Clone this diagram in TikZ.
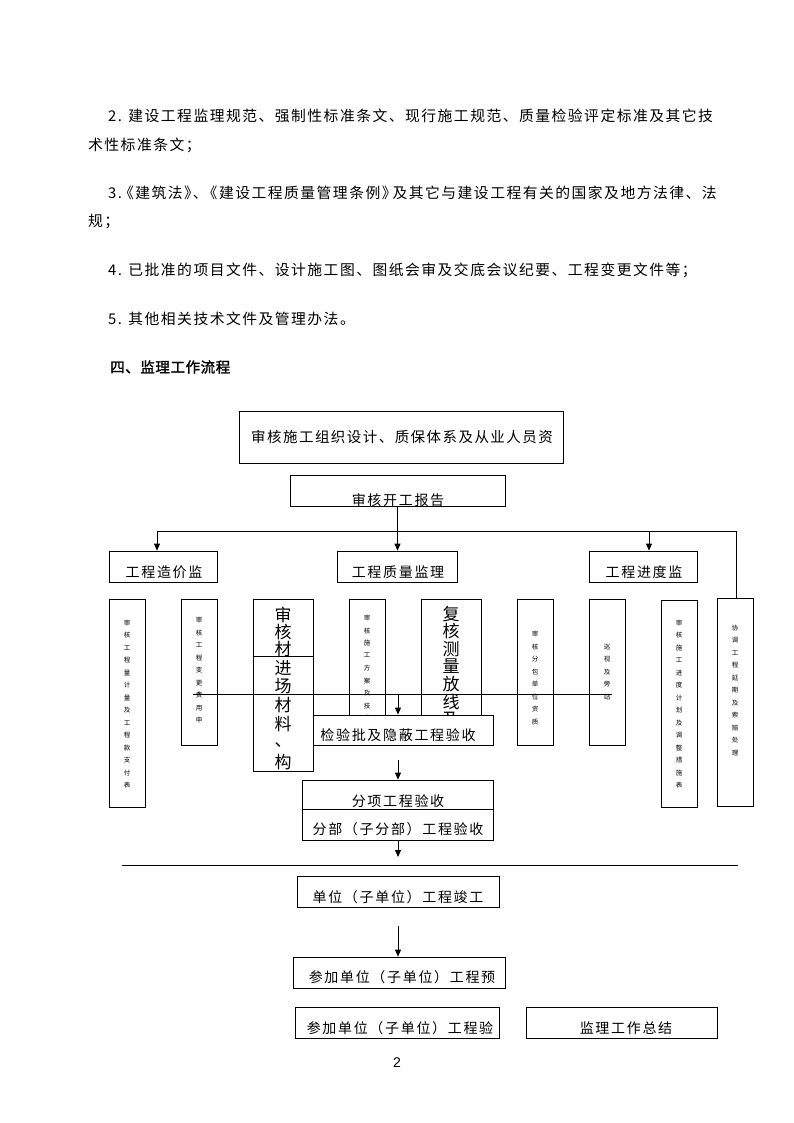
\documentclass[tikz,border=0pt]{standalone}
\usepackage{fontspec}
\usetikzlibrary{arrows.meta}
\newfontfamily\cjkt[LetterSpace=10]{Noto Sans CJK SC}
\newfontfamily\cjkb[LetterSpace=12]{Noto Sans CJK SC}
\newfontfamily\cjkv{Noto Sans CJK SC}
\newfontfamily\cjkh[FakeBold=1.6,LetterSpace=4]{Noto Sans CJK SC}
\setmainfont{Liberation Sans}
\tikzset{
  box/.style={draw, line width=0.8pt, fill=white, inner sep=0pt},
  bodytxt/.style={anchor=west, inner sep=0pt, font=\cjkt\fontsize{14.8}{17}\selectfont},
  btxt/.style={inner sep=0pt, font=\cjkb\fontsize{14}{16}\selectfont},
  bigv/.style={inner sep=0pt, font=\cjkv\fontsize{17}{18}\selectfont},
  tinyv/.style={inner sep=0pt, align=center, font=\cjkv\fontsize{6.5}{12.5}\selectfont},
  conn/.style={line width=0.8pt},
  arr/.style={line width=0.8pt, -{Triangle[length=7pt,width=6pt]}}
}
\begin{document}
\begin{tikzpicture}[x=1pt,y=-1pt]
\useasboundingbox[fill=white] (0,0) rectangle (794,1123);

% ---- body text ----
\node[bodytxt] (l1) at (108,116) {2. 建设工程监理规范、强制性标准条文、现行施工规范、质量检验评定标准及其它技};
\node[bodytxt] (l2) at (88,145) {术性标准条文；};
\node[bodytxt] (l3) at (108,193) {3.\kern-3pt《建筑法》\kern-6pt、\kern-5pt《建设工程质量管理条例》\kern-4pt及其它与建设工程有关的国家及地方法律、法};
\node[bodytxt] (l4) at (88,222) {规；};
\node[bodytxt] (l5) at (108,270) {4. 已批准的项目文件、设计施工图、图纸会审及交底会议纪要、工程变更文件等；};
\node[bodytxt] (l6) at (108,319) {5. 其他相关技术文件及管理办法。};
\node[bodytxt, font=\cjkh\fontsize{14.5}{17}\selectfont] (h4) at (110,367) {四、监理工作流程};

% ---- top boxes ----
\node[box, minimum width=324pt, minimum height=52pt] (A) at (401,437) {};
\node[inner sep=0pt, font=\cjkt\fontsize{14.5}{17}\selectfont] (tA) at (402,437) {审核施工组织设计、质保体系及从业人员资};
\node[box, minimum width=215pt, minimum height=31pt] (B) at (397.5,490.5) {};
\begin{scope}
  \clip (B.north west) rectangle (B.south east);
  \node[btxt] (tB) at (398,500) {审核开工报告};
\end{scope}

% ---- three branches ----
\node[box, minimum width=108pt, minimum height=31pt] (z) at (163,566.5) {};
\node[btxt] (tz) at (164,572) {工程造价监};
\node[box, minimum width=120pt, minimum height=31pt] (q) at (397,566.5) {};
\node[btxt] (tq) at (398,572) {工程质量监理};
\node[box, minimum width=108pt, minimum height=31pt] (p) at (643,566.5) {};
\node[btxt] (tp) at (644,572) {工程进度监};

\coordinate (hL) at (157,531);
\coordinate (hP) at (649,531);
\coordinate (hR) at (736,531);
\draw[arr] (B.south) -- (B.south |- q.north);
\draw[conn] (hL) -- (hR);
\draw[arr] (hL) -- (hL |- z.north);
\draw[arr] (hP) -- (hP |- p.north);

% ---- tall columns ----
\node[box, minimum width=36pt, minimum height=208pt] (c1) at (127,703) {};
\node[tinyv] (t1) at (127,704) {审\\核\\工\\程\\量\\计\\量\\及\\工\\程\\款\\支\\付\\表};
\node[box, minimum width=36pt, minimum height=146pt] (c2) at (199,672) {};
\node[tinyv] (t2) at (199,670) {审\\核\\工\\程\\变\\更\\费\\用\\申};
\node[box, minimum width=60pt, minimum height=172pt] (c3) at (283,685) {};
\node[box, minimum width=36pt, minimum height=146pt] (c4) at (367,672) {};
\node[tinyv] (t4) at (367,668) {审\\核\\施\\工\\方\\案\\及\\技\\术};
\node[box, minimum width=60pt, minimum height=146pt] (c5) at (451,672) {};
\node[box, minimum width=36pt, minimum height=146pt] (c6) at (535,672) {};
\node[tinyv] (t6) at (535,678) {审\\核\\分\\包\\单\\位\\资\\质};
\node[box, minimum width=36pt, minimum height=146pt] (c7) at (607,672) {};
\node[tinyv] (t7) at (607,672) {巡\\视\\及\\旁\\站};
\node[box, minimum width=36pt, minimum height=207pt] (c8) at (679,703.5) {};
\node[tinyv] (t8) at (679,704) {审\\核\\施\\工\\进\\度\\计\\划\\及\\调\\整\\措\\施\\表};
\node[box, minimum width=36pt, minimum height=208pt] (c9) at (735,702) {};
\node[tinyv] (t9) at (735,690) {协\\调\\工\\程\\延\\期\\及\\索\\赔\\处\\理};
\draw[conn] (hR) -- (hR |- c9.north);

% material box contents
\coordinate (mline) at (0,656);
\draw[conn] (c3.west |- mline) -- (c3.east |- mline);
\begin{scope}
  \clip (c3.north west) rectangle (c3.east |- mline);
  \foreach \ch [count=\i] in {审,核,材,料}
    \node[bigv] (ma\i) at (283,{598+\i*17}) {\ch};
\end{scope}
\node[bigv] (mb1) at (283,668) {进};
\node[bigv] (mb2) at (283,686) {场};
\node[bigv] (mb3) at (283,705) {材};
\node[bigv] (mb4) at (283,724) {料};
\node[bigv] (mb5) at (283,745) {、};
\node[bigv] (mb6) at (283,762) {构};

% survey box contents (lower part hidden by the inspection box)
\coordinate (jtop) at (0,715);
\begin{scope}
  \clip (c5.north west) rectangle (c5.east |- jtop);
  \foreach \ch [count=\i] in {复,核,测,量,放,线,及}
    \node[bigv] (sv\i) at (451,{596.5+\i*17.5}) {\ch};
\end{scope}

% middle horizontal line
\coordinate (mL) at (193,694);
\coordinate (mA) at (398,694);
\coordinate (mR) at (612,694);
\draw[conn] (mL) -- (mR);

% ---- inspection chain ----
\node[box, minimum width=180pt, minimum height=30pt] (jy) at (403,730) {};
\node[btxt] (tjy) at (398,735) {检验批及隐蔽工程验收};
\draw[arr] (mA) -- (mA |- jy.north);

\node[box, minimum width=191pt, minimum height=29pt] (fx) at (397.5,794.5) {};
\node[btxt] (tfx) at (398,801) {分项工程验收};
\coordinate (a1) at (398,760);
\draw[arr] (a1) -- (a1 |- fx.north);

\node[box, minimum width=191pt, minimum height=31pt] (fb) at (397.5,824.5) {};
\begin{scope}
  \clip (fb.north west) rectangle (fb.south east);
  \node[btxt] (tfb) at (398,829) {分部（子分部）工程验收};
\end{scope}
\coordinate (a2) at (398,857);
\draw[arr] (fb.south -| a2) -- (a2);

\coordinate (g1) at (122,865);
\coordinate (g2) at (265,865);
\coordinate (g3) at (738,865);
\draw[conn] (g1) -- (g2) -- (g3);

\node[box, minimum width=202pt, minimum height=31pt] (dw) at (398,891.5) {};
\node[btxt] (tdw) at (398,897) {单位（子单位）工程竣工};

\node[box, minimum width=212pt, minimum height=31pt] (yy) at (399,972.5) {};
\node[btxt] (tyy) at (402,977) {参加单位（子单位）工程预};
\coordinate (a3) at (398,926);
\draw[arr] (a3) -- (a3 |- yy.north);

\node[box, minimum width=204pt, minimum height=31pt] (ys) at (397,1022.5) {};
\node[btxt] (tys) at (400,1028) {参加单位（子单位）工程验};
\node[box, minimum width=191pt, minimum height=31pt] (zj) at (621.5,1022.5) {};
\node[btxt] (tzj) at (626,1028) {监理工作总结};

\node[inner sep=0pt, font=\fontsize{14}{16}\selectfont] (pg) at (397,1063) {2};
\end{tikzpicture}
\end{document}
